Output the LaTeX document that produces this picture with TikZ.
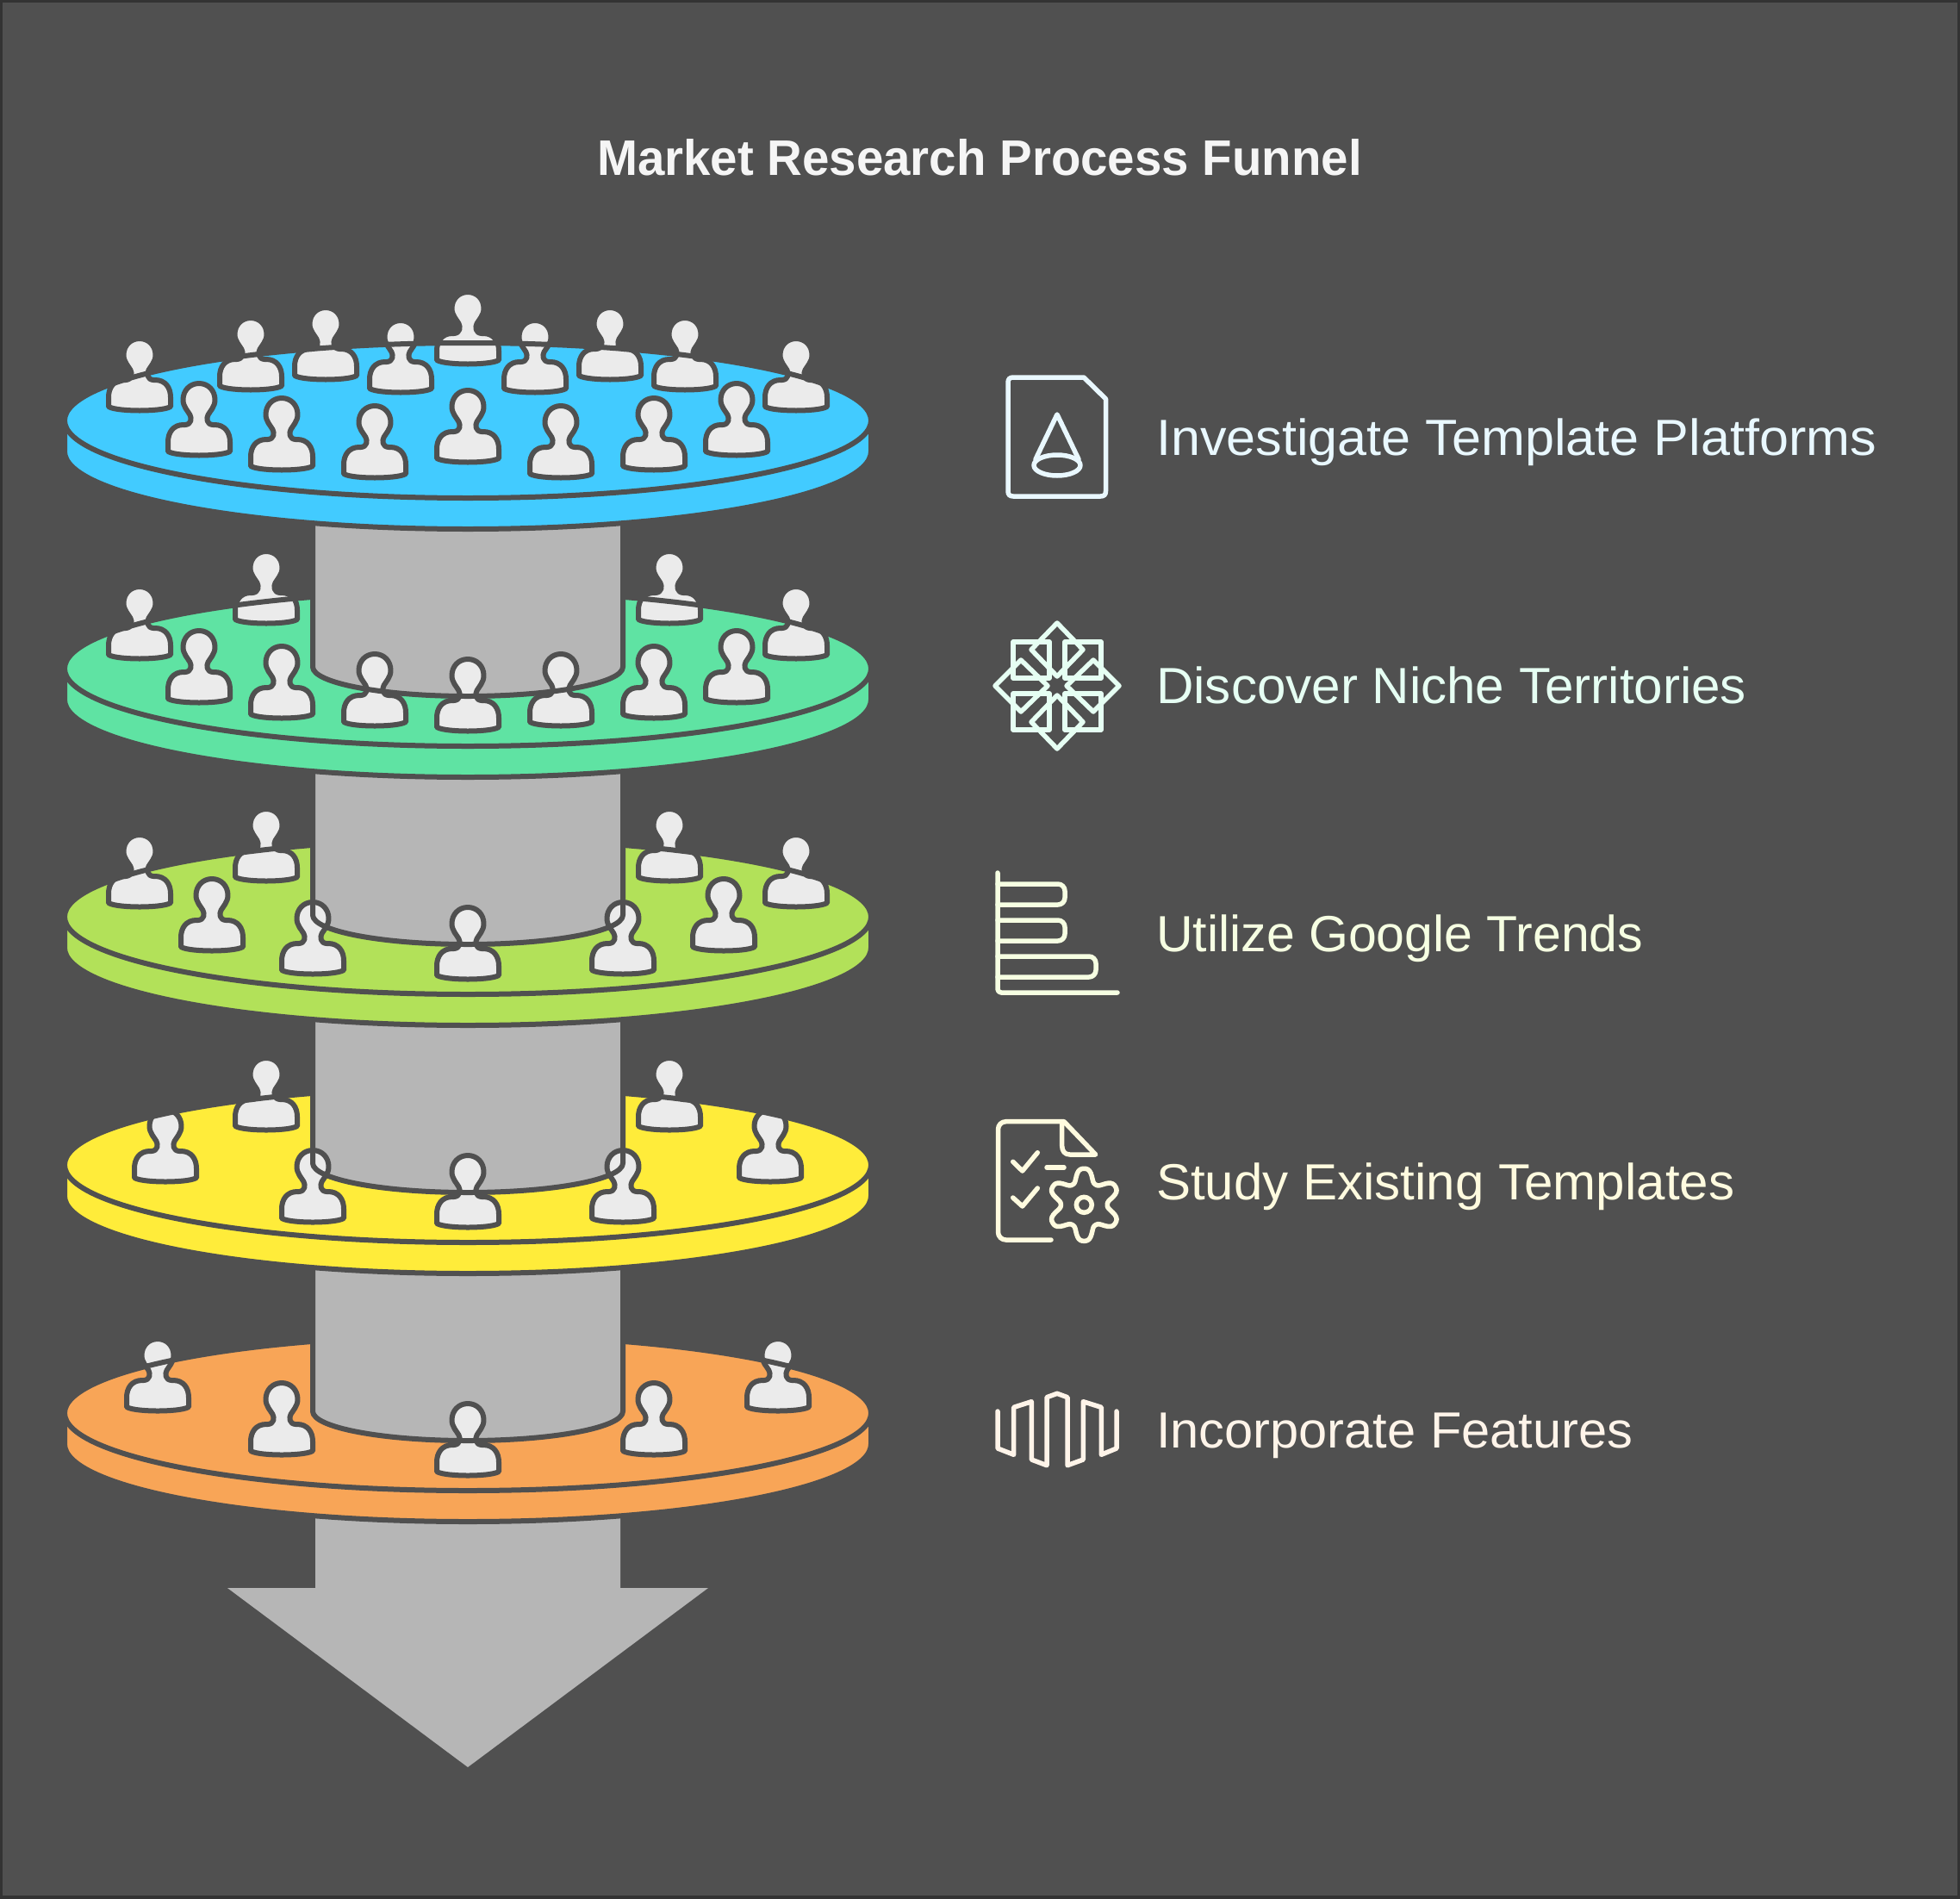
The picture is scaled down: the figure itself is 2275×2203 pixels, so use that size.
\documentclass[tikz,border=0pt]{standalone}
\usepackage{fontspec}
\setmainfont{Liberation Sans}
\definecolor{bgc}{HTML}{505050}
\definecolor{edgec}{HTML}{333333}
\definecolor{cyl}{HTML}{B6B6B6}
\definecolor{pers}{HTML}{EBEBEB}
\definecolor{cA}{HTML}{42CBFF}
\definecolor{cB}{HTML}{5FE3A3}
\definecolor{cC}{HTML}{B2E159}
\definecolor{cD}{HTML}{FFEC3A}
\definecolor{cE}{HTML}{F8A557}
\definecolor{tA}{HTML}{E9F8FF}
\definecolor{tB}{HTML}{E6FFF3}
\definecolor{tC}{HTML}{F6FFE2}
\definecolor{tD}{HTML}{FFFBDF}
\definecolor{tE}{HTML}{FFF4E9}
\tikzset{
  darkline/.style={draw=bgc,line width=6pt,line join=round},
  persona/.style={fill=pers,draw=bgc,line width=6pt,line join=round},
  icona/.style={line width=5.5pt,line cap=round,line join=round},
  steptext/.style={anchor=base west,inner sep=0pt,font=\fontsize{59}{59}\selectfont},
}
\newcommand{\person}[2]{%
  \draw[persona,shift={(#1,#2)}] (0,0)
   .. controls (10.5,0) and (18.5,8) .. (18.5,19)
   .. controls (18.5,27) and (13,32) .. (10.5,36.5)
   .. controls (8.5,40) and (8.5,47.5) .. (16,48)
   -- (18,48)
   .. controls (30,48) and (36,57) .. (36,68)
   -- (36,79)
   .. controls (30,82.5) and (12,83.5) .. (0,83.5)
   .. controls (-12,83.5) and (-30,82.5) .. (-36,79)
   -- (-36,68)
   .. controls (-36,57) and (-30,48) .. (-18,48)
   -- (-16,48)
   .. controls (-8.5,47.5) and (-8.5,40) .. (-10.5,36.5)
   .. controls (-13,32) and (-18.5,27) .. (-18.5,19)
   .. controls (-18.5,8) and (-10.5,0) .. (0,0) -- cycle;}
\newcommand{\diskbody}[2]{%
  \draw[darkline,fill=#1] (75,#2) -- (75,#2+36)
     arc[start angle=180,end angle=0,x radius=468,y radius=90] -- (1011,#2) -- cycle;
  \fill[#1] (543,#2) ellipse[x radius=468,y radius=90];}
\newcommand{\diskrim}[1]{\draw[darkline] (543,#1) ellipse[x radius=468,y radius=90];}
\newcommand{\cylfill}[1]{%
  \fill[cyl] (363,#1-288) -- (363,#1-2)
     arc[start angle=180,end angle=0,x radius=180,y radius=34] -- (723,#1-288) -- cycle;}
\newcommand{\cylline}[1]{%
  \draw[darkline] (363,#1-288) -- (363,#1-2)
     arc[start angle=180,end angle=0,x radius=180,y radius=34] -- (723,#1-288);}
\begin{document}
\begin{tikzpicture}[x=1pt,y=-1pt]
\useasboundingbox (0,0) rectangle (2275,2203);
\draw[draw=edgec,fill=bgc,line width=6pt] (0,0) rectangle (2275,2203);
% arrow
\fill[cyl] (366,1700) -- (366,1843) -- (264,1843) -- (543,2051) -- (822,1843) -- (720,1843) -- (720,1700) -- cycle;
% level 5
\diskbody{cE}{1640}
\person{183}{1554}\person{903}{1554}\person{327}{1605}\person{759}{1605}
\diskrim{1640}
\cylfill{1640}
\person{543}{1629}
\cylline{1640}
% level 4
\diskbody{cD}{1352}
\person{309}{1228}\person{777}{1228}\person{192}{1288}\person{894}{1288}
\diskrim{1352}
\cylfill{1352}
\person{363}{1335}\person{723}{1335}\person{543}{1341}
\cylline{1352}
% level 3
\diskbody{cC}{1064}
\person{162}{969}\person{924}{969}\person{309}{939}\person{777}{939}\person{246}{1020}\person{840}{1020}
\diskrim{1064}
\cylfill{1064}
\person{363}{1047}\person{723}{1047}\person{543}{1053}
\cylline{1064}
% level 2
\diskbody{cB}{776}
\person{162}{681}\person{924}{681}\person{309}{640}\person{777}{640}
\person{231}{732}\person{855}{732}\person{327}{750}\person{759}{750}
\diskrim{776}
\cylfill{776}
\person{435}{759}\person{651}{759}\person{543}{765}
\cylline{776}
% level 1
\diskbody{cA}{488}
\person{162}{393}\person{924}{393}\person{291}{369}\person{795}{369}
\person{378}{357}\person{708}{357}\person{465}{372}\person{621}{372}\person{543}{339}
\person{231}{445}\person{855}{445}\person{327}{462}\person{759}{462}
\person{435}{471}\person{651}{471}\person{543}{453}
\diskrim{488}
% title and labels
\node[anchor=base,inner sep=0pt,text=white!96!black] (title) at (1137,203) {\scalebox{0.973}[1]{\fontsize{58}{58}\selectfont\bfseries Market Research Process Funnel}};
\node[steptext,text=tA] (labA) at (1342,528) {\scalebox{1.036}[1]{Investigate Template Platforms}};
\node[steptext,text=tB] (labB) at (1342,816) {\scalebox{1.019}[1]{Discover Niche Territories}};
\node[steptext,text=tC] (labC) at (1342,1104) {Utilize Google Trends};
\node[steptext,text=tD] (labD) at (1342,1392) {\scalebox{1.018}[1]{Study Existing Templates}};
\node[steptext,text=tE] (labE) at (1342,1680) {\scalebox{1.01}[1]{Incorporate Features}};
% icon 1
\draw[icona,draw=tA] (1176,438) -- (1258,438) -- (1283.5,463) -- (1283.5,570)
   .. controls (1283.5,574) and (1281.5,576) .. (1277.5,576) -- (1176,576)
   .. controls (1172,576) and (1170,574) .. (1170,570) -- (1170,444)
   .. controls (1170,440) and (1172,438) .. (1176,438) -- cycle;
\draw[icona,draw=tA] (1227,540) ellipse[x radius=27,y radius=12];
\draw[icona,draw=tA] (1202,533) -- (1227,481) -- (1252,533);
% icon 2
\foreach \sx in {-1,1}{\foreach \sy in {-1,1}{
  \draw[icona,draw=tB] (1227+\sx*9,796+\sy*9) rectangle (1227+\sx*51,796+\sy*51);}}
\draw[icona,draw=tB] (1227,723) -- (1257,754) -- (1227,785) -- (1197,754) -- cycle;
\draw[icona,draw=tB] (1227,869) -- (1257,838) -- (1227,807) -- (1197,838) -- cycle;
\draw[icona,draw=tB] (1155,796) -- (1185,766) -- (1216,796) -- (1185,826) -- cycle;
\draw[icona,draw=tB] (1299,796) -- (1269,766) -- (1238,796) -- (1269,826) -- cycle;
% icon 3
\draw[icona,draw=tC,rounded corners=4pt] (1158,1013) -- (1158,1152) -- (1297,1152);
\draw[icona,draw=tC,rounded corners=8pt] (1158,1026) -- (1236,1026) -- (1236,1050) -- (1158,1050);
\draw[icona,draw=tC,rounded corners=8pt] (1158,1068) -- (1236,1068) -- (1236,1092) -- (1158,1092);
\draw[icona,draw=tC,rounded corners=8pt] (1158,1110) -- (1272,1110) -- (1272,1134) -- (1158,1134);
% icon 4
\draw[icona,draw=tD,rounded corners=9pt] (1220,1439) -- (1158.5,1439) -- (1158.5,1301.7) -- (1232,1301.7);
\draw[icona,draw=tD] (1232,1301.7) -- (1235,1301.7) -- (1271.7,1340) -- (1241.7,1340)
   .. controls (1236,1340) and (1232.7,1336) .. (1232.7,1330) -- (1232.7,1301.7);
\draw[icona,draw=tD] (1175.7,1348.3) -- (1186.7,1359) -- (1204.3,1337.7);
\draw[icona,draw=tD] (1175.7,1390) -- (1186.7,1400) -- (1204.3,1379);
\draw[icona,draw=tD] (1215,1355) -- (1235,1355);
\draw[icona,draw=tD] (1258.3,1398.3) circle[radius=9];
\draw[icona,draw=tD] plot[domain=0:360,samples=121,smooth,variable=\t]
   ({1258.3+(34.5+8.2*(cos(6*(\t-90))-0.08*cos(18*(\t-90))))*cos(\t)},{1398.3+(34.5+8.2*(cos(6*(\t-90))-0.08*cos(18*(\t-90))))*sin(\t)}) -- cycle;
% icon 5
\draw[icona,draw=tE] (1158,1638) -- (1158,1681) -- (1176.7,1688.3) -- (1176.7,1633.3) -- (1197.3,1626.7)
  -- (1197.3,1694) -- (1215,1700.7) -- (1215,1621.7) -- (1227,1617.3) -- (1239,1621.7) -- (1239,1700.7)
  -- (1257.3,1694) -- (1257.3,1626.7) -- (1278.3,1633.3) -- (1278.3,1688.3) -- (1296,1681) -- (1296,1638);
\end{tikzpicture}
\end{document}
